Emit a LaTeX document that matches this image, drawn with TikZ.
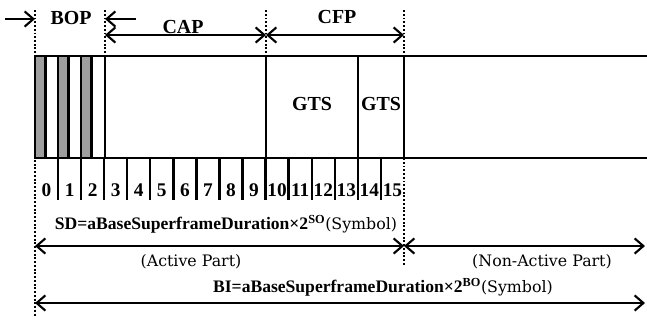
\documentclass[tikz,border=0pt]{standalone}
\usepackage{fontspec}
\setmainfont{Liberation Serif}
\newfontfamily\plainserif{DejaVu Serif}
\usetikzlibrary{arrows.meta, positioning, calc}
\tikzset{
  every picture/.style={line width=2pt},
  frame/.style={draw=black, line width=2pt},
  slotbar/.style={fill=black!38, draw=black, line width=2pt},
  tick/.style={draw=black, line width=2pt},
  guide/.style={draw=black, line width=1.7pt, dash pattern=on 1.6pt off 1.6pt},
  span/.style={{Straight Barb[length=7.5pt, width=13pt]}-{Straight Barb[length=7.5pt, width=13pt]}, line width=1.8pt},
  single/.style={-{Straight Barb[length=7.5pt, width=13pt]}, line width=1.8pt},
  head/.style={font=\fontsize{17}{19}\selectfont\bfseries, inner sep=1pt},
  num/.style={font=\fontsize{16.5}{18}\selectfont\bfseries, inner sep=0pt},
  formula/.style={font=\fontsize{15}{17}\selectfont\bfseries, inner sep=1pt},
  part/.style={font=\plainserif\fontsize{13.5}{16}\selectfont, inner sep=1pt},
}
\newcommand{\slotw}{23.06}

\begin{document}
\begin{tikzpicture}[x=0.03cm, y=-0.03cm]
  \useasboundingbox (0,0) rectangle (647,323);

  % dotted guides
  \coordinate (g0t) at (35,10);   \coordinate (g0b) at (35,317);
  \coordinate (g3t) at (105,10);  \coordinate (g3b) at (105,56);
  \coordinate (g10t) at (266,10); \coordinate (g10b) at (266,56);
  \coordinate (g16t) at (404,10); \coordinate (g16b) at (404,56);
  \coordinate (g16c) at (404,158); \coordinate (g16d) at (404,265);
  \draw[guide] (g0t) -- (g0b);
  \draw[guide] (g3t) -- (g3b);
  \draw[guide] (g10t) -- (g10b);
  \draw[guide] (g16t) -- (g16b);
  \draw[guide] (g16c) -- (g16d);

  % superframe
  \foreach \i in {0,1,2} {
    \pgfmathsetmacro{\xa}{35+\slotw*\i}
    \filldraw[slotbar] (\xa,56) rectangle (\xa+10.5,158);
  }
  \draw[frame] (647,56) -- (35,56) -- (35,158) -- (647,158);
  \draw[frame] (105,56) -- (105,158);
  \draw[frame] (266,56) -- (266,158);
  \draw[frame] (358,56) -- (358,158);
  \draw[frame] (404,56) -- (404,158);
  \node[head] (gts1) at (312,104) {GTS};
  \node[head] (gts2) at (381,104) {GTS};

  % slots
  \foreach \i in {1,...,15}
    \draw[tick] ({35+\slotw*\i},158) -- ++(0,42);
  \foreach \i in {0,...,15}
    \node[num] (n\i) at ({35+\slotw*(\i+0.5)},190) {\i};

  % top spans
  \coordinate (bopl) at (5,19);   \coordinate (bopa) at (35,19);
  \coordinate (bopr) at (136,19); \coordinate (bopb) at (105,19);
  \coordinate (cap0) at (105,35); \coordinate (cap1) at (266,35);
  \coordinate (cfp1) at (404,35);
  \draw[single] (bopl) -- (bopa);
  \draw[single] (bopr) -- (bopb);
  \draw[span] (cap0) -- (cap1);
  \draw[span] (cap1) -- (cfp1);
  \node[head] (bop) at (71,18) {BOP};
  \node[head] (cap) at (183,27) {CAP};
  \node[head] (cfp) at (337,17) {CFP};

  % bottom spans
  \coordinate (act0) at (35,246);  \coordinate (act1) at (404,246);
  \coordinate (non1) at (645,246);
  \coordinate (bi0) at (35,303);   \coordinate (bi1) at (645,303);
  \draw[span] (act0) -- (act1);
  \draw[span] (act1) -- (non1);
  \draw[span] (bi0) -- (bi1);
  \node[formula] (sd) at (226,224) {SD=aBaseSuperframeDuration×2\textsuperscript{SO}{\plainserif\mdseries\fontsize{13.5}{16}\selectfont(Symbol)}};
  \node[part] (actp) at (191,262) {(Active Part)};
  \node[part] (nonp) at (542,262) {(Non-Active Part)};
  \node[formula] (bi) at (383,287) {BI=aBaseSuperframeDuration×2\textsuperscript{BO}{\plainserif\mdseries\fontsize{13.5}{16}\selectfont(Symbol)}};
\end{tikzpicture}
\end{document}
